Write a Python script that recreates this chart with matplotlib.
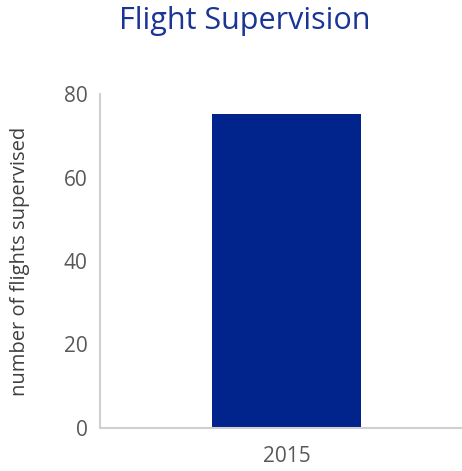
import matplotlib
matplotlib.use("Agg")
import matplotlib.pyplot as plt

categories = ["2015"]
values = [75.2]
yticks = [0, 20, 40, 60, 80]

plt.rcParams['font.family'] = ['Open Sans', 'DejaVu Sans']

fig = plt.figure(figsize=(4.62, 4.71), dpi=100)
ax = fig.add_axes([100/462, 1-428/471, 362/462, (428-94)/471])

ax.bar(range(len(categories)), values, width=0.412, color="#00238C")
ax.set_xlim(-0.515, 0.485)
ax.set_ylim(0, 80)
ax.set_yticks(yticks)
ax.set_xticks(range(len(categories)))
ax.set_xticklabels(categories)
ax.tick_params(axis='both', length=0, labelsize=15, colors="#595959")
ax.tick_params(axis='x', pad=13)
ax.tick_params(axis='y', pad=9)
for s in ['top', 'right']:
    ax.spines[s].set_visible(False)
for s in ['left', 'bottom']:
    ax.spines[s].set_color("#D0D0D0")
    ax.spines[s].set_linewidth(1.5)
ax.set_ylabel("number of flights supervised", fontsize=14.5, color="#404040")
ax.yaxis.set_label_coords(-70/362, 0.5)
fig.text(245/462, 1-21/471, "Flight Supervision", ha='center', va='center', fontsize=22, color="#1A3596")

fig.savefig("out.png", dpi=100)
